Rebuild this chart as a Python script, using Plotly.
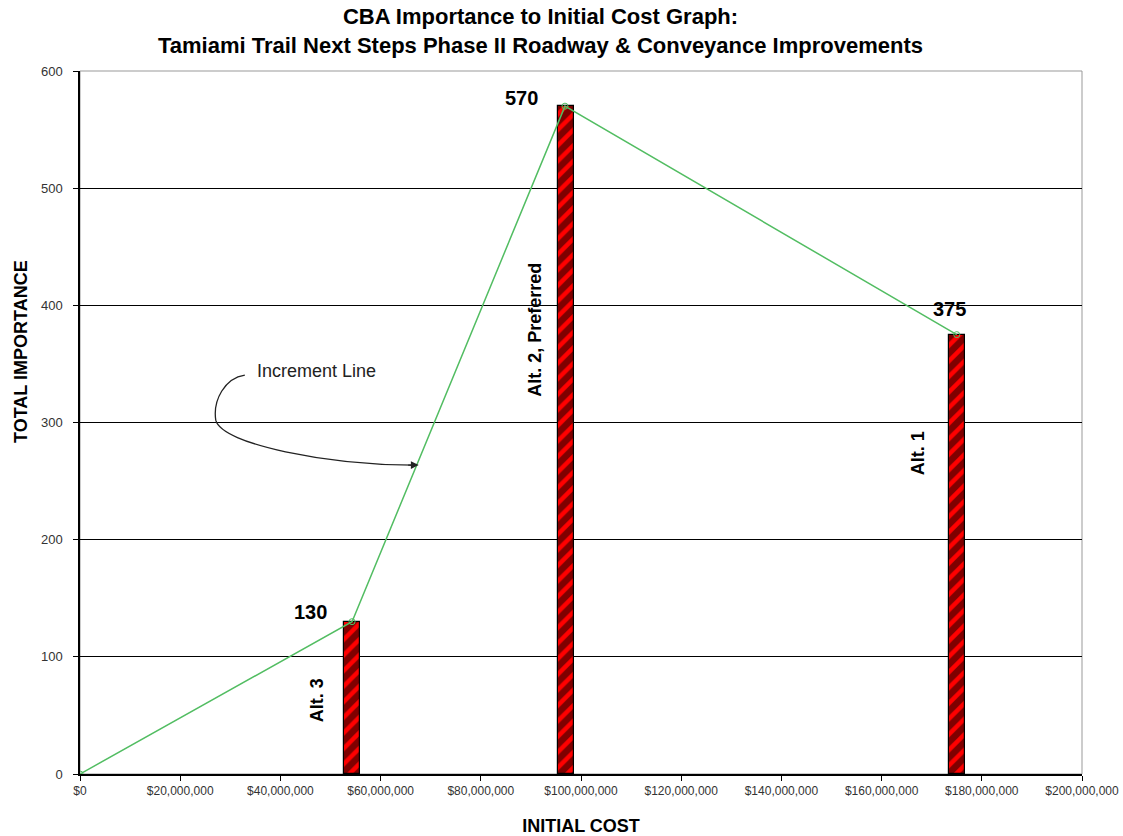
import plotly.graph_objects as go

# Alternatives: initial cost (USD) and total importance
alt_names = ["Alt. 3", "Alt. 2, Preferred", "Alt. 1"]
alt_cost = [54.3e6, 97.0e6, 175.0e6]
alt_importance = [130, 570, 375]

# Increment line runs from the origin through each alternative, ordered by cost
inc_cost = [0, 54.3e6, 96.8e6, 175.0e6]
inc_importance = [0, 130, 570, 375]

x_ticks = [i * 20e6 for i in range(11)]
x_tick_text = ["$0"] + ["${:,.0f}".format(v) for v in x_ticks[1:]]
y_ticks = [0, 100, 200, 300, 400, 500, 600]

FONT = "Liberation Sans, Arial"

fig = go.Figure()

fig.add_trace(go.Bar(
    x=alt_cost, y=alt_importance, width=3.1e6,
    marker=dict(color="#ff0000", line=dict(color="black", width=1.2),
                pattern=dict(shape="/", fgcolor="black", bgcolor="#ff0000",
                             size=11, solidity=0.6)),
    hoverinfo="skip", showlegend=False,
))

fig.add_trace(go.Scatter(
    x=inc_cost, y=inc_importance, mode="lines+markers",
    line=dict(color="#52bd62", width=1.5),
    marker=dict(symbol="circle-open", size=6, color="#52bd62"),
    showlegend=False,
))

# Value labels above each alternative
value_pos = [(46e6, 138), (88.2e6, 577), (173.6e6, 397)]
for (px, py), v in zip(value_pos, alt_importance):
    fig.add_annotation(x=px, y=py, text="<b>%d</b>" % v, showarrow=False,
                       font=dict(family=FONT, size=20, color="black"))

# Rotated names beside the bars
name_pos = [(47.3e6, 63), (90.8e6, 379), (167.3e6, 274)]
for (px, py), name in zip(name_pos, alt_names):
    fig.add_annotation(x=px, y=py, text="<b>%s</b>" % name, showarrow=False, textangle=-90,
                       font=dict(family=FONT, size=18, color="black"))

# Callout for the increment line
fig.add_annotation(x=35.0e6, y=344, text="Increment Line", showarrow=False, xanchor="left",
                   font=dict(family=FONT, size=18, color="#222"))
fig.add_shape(type="path", xref="x", yref="y",
              path=("M 32.9e6,340.5 C 28.9e6,338 26.5e6,319 27.1e6,302 "
                    "C 28.3e6,281 49.9e6,263.7 66.5e6,263.7"),
              line=dict(color="#222", width=1.3))
fig.add_annotation(x=67.6e6, y=263.7, ax=-12, ay=0, text="", showarrow=True,
                   arrowhead=2, arrowsize=1.2, arrowwidth=1.3, arrowcolor="#222")

# Chart title, two lines above the plotting area
fig.add_annotation(xref="paper", yref="paper", x=0.46, y=1 + 40 / 703, yanchor="middle",
                   text="<b>CBA Importance to Initial Cost Graph:<br>"
                        "Tamiami Trail Next Steps Phase II Roadway & Conveyance Improvements</b>",
                   showarrow=False, align="center",
                   font=dict(family=FONT, size=22, color="black"))

# Y-axis title, placed as a rotated label left of the tick labels
fig.add_annotation(xref="paper", yref="paper", x=-59 / 1002, y=(774 - 352) / 703,
                   text="<b>TOTAL IMPORTANCE</b>", showarrow=False, textangle=-90,
                   xanchor="center", yanchor="middle",
                   font=dict(family=FONT, size=18, color="black"))

# Grey frame around the plotting area
fig.add_shape(type="rect", xref="paper", yref="paper", x0=0, y0=0, x1=1, y1=1,
              line=dict(color="#999", width=1), layer="below")

fig.update_layout(
    width=1123, height=836,
    margin=dict(l=80, r=41, t=71, b=62, autoexpand=False),
    paper_bgcolor="white", plot_bgcolor="white",
    bargap=0,
)

fig.update_xaxes(
    range=[0, 200e6], tickvals=x_ticks, ticktext=x_tick_text, automargin=False,
    tickfont=dict(family=FONT, size=12, color="#333"),
    showgrid=False, zeroline=False, showline=True, linecolor="black", linewidth=1.5,
    ticks="outside", ticklen=5, tickcolor="black",
    title=dict(text="<b>INITIAL COST</b>", standoff=30,
               font=dict(family=FONT, size=18, color="black")),
)
fig.update_yaxes(
    range=[0, 600], tickvals=y_ticks, automargin=False,
    tickfont=dict(family=FONT, size=13, color="#333"),
    ticklabelstandoff=8,
    showgrid=True, gridcolor="black", gridwidth=1.2, zeroline=False,
    showline=True, linecolor="black", linewidth=1.5,
    ticks="outside", ticklen=5, tickcolor="black",
)

fig.write_html("out.html")
